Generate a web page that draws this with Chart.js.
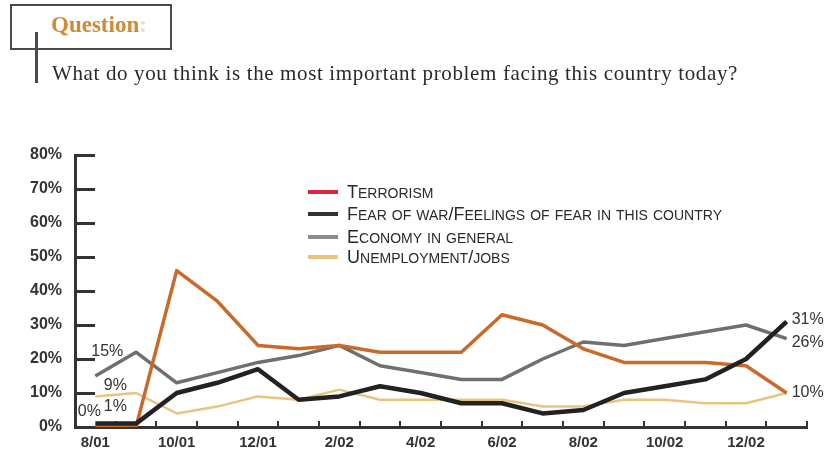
<!DOCTYPE html>
<html>
<head>
<meta charset="utf-8">
<script src="https://cdn.jsdelivr.net/npm/chart.js@4.4.1/dist/chart.umd.min.js"></script>
<style>
  html, body { margin: 0; padding: 0; background: #fff; }
  #wrap { position: relative; width: 827px; height: 458px; overflow: hidden; }
  #c { position: absolute; left: 0; top: 0; }
  #qbox { position: absolute; left: 10px; top: 4px; width: 158px; height: 42px; border: 2.5px solid #4a4a4a; }
  #qline { position: absolute; left: 35px; top: 32px; width: 2.5px; height: 51px; background: #4a4a4a; }
  #qlabel { position: absolute; left: 51px; top: 12px; font-family: "Liberation Serif", serif; font-size: 23px; font-weight: bold; color: #d18a35; white-space: nowrap; line-height: 26px; }
  #qlabel span { color: #eadccb; }
  #qtext { position: absolute; left: 52px; top: 61px; font-family: "Liberation Serif", serif; font-size: 21px; color: #2a2a2a; white-space: nowrap; line-height: 24px; }
  .leg { position: absolute; left: 308px; height: 20px; white-space: nowrap; }
  .leg i { position: absolute; left: 0; top: 8px; width: 30px; height: 4px; }
  .leg b { position: absolute; left: 39px; top: 0; font-family: "Liberation Sans", sans-serif; font-weight: normal; font-size: 18px; line-height: 20px; color: #2a2a2a; }
  .leg b s { text-decoration: none; text-transform: uppercase; font-size: 14px; }
</style>
</head>
<body>
<div id="wrap">
  <canvas id="c" width="827" height="458"></canvas>
  <div id="qbox"></div>
  <div id="qline"></div>
  <div id="qlabel">Question<span>:</span></div>
  <div id="qtext">What do you think is the most important problem facing this country today?</div>
  <div id="legend"></div>
</div>
<script>
// ---- data ----
const months = ["8/01","9/01","10/01","11/01","12/01","1/02","2/02","3/02","4/02","5/02","6/02","7/02","8/02","9/02","10/02","11/02","12/02","1/03"];
const terrorism    = [0, 0, 46, 37, 24, 23, 24, 22, 22, 22, 33, 30, 23, 19, 19, 19, 18, 10];
const fearOfWar    = [1, 1, 10, 13, 17,  8,  9, 12, 10,  7,  7,  4,  5, 10, 12, 14, 20, 31];
const economy      = [15, 22, 13, 16, 19, 21, 24, 18, 16, 14, 14, 20, 25, 24, 26, 28, 30, 26];
const unemployment = [9, 10, 4, 6, 9, 8, 11, 8, 8, 8, 8, 6, 6, 8, 8, 7, 7, 10];
const yTicks = [0, 10, 20, 30, 40, 50, 60, 70, 80];
const seriesNames = ["Terrorism", "Fear of war/Feelings of fear in this country", "Economy in general", "Unemployment/jobs"];

const lineColors = ["#c96a2b", "#222222", "#6f6f6f", "#e9c47f"];
const legendColors = ["#d9283a", "#333333", "#8c8c8c", "#e9c47f"];

// legend (HTML overlay, hand-made small caps: lowercase runs shown smaller in capitals)
const legRows = [182, 204, 227, 247];
const legEl = document.getElementById('legend');
function smallCaps(text) {
  return text.replace(/[a-z]+/g, m => '<s>' + m + '</s>');
}
seriesNames.forEach((n, i) => {
  const d = document.createElement('div');
  d.className = 'leg';
  d.style.top = legRows[i] + 'px';
  d.innerHTML = '<i style="background:' + legendColors[i] + '"></i><b>' + smallCaps(n) + '</b>';
  legEl.appendChild(d);
});

// axes decorations and value labels drawn from data
const labelPlugin = {
  id: 'labels',
  beforeDatasetsDraw(chart) {
    const ctx = chart.ctx;
    const xs = chart.scales.x, ys = chart.scales.y;
    ctx.save();
    ctx.strokeStyle = '#333';
    ctx.lineWidth = 3;
    yTicks.forEach(v => {
      if (v === 0) return;
      const y = Math.round(ys.getPixelForValue(v)) + 0.5;
      ctx.beginPath(); ctx.moveTo(xs.left, y); ctx.lineTo(xs.left + 20, y); ctx.stroke();
    });
    ctx.lineWidth = 2;
    const n = months.length;
    for (let i = 1; i <= n; i++) {
      const x = Math.round(xs.left + i * (xs.right - xs.left) / n);
      ctx.beginPath(); ctx.moveTo(x, ys.bottom); ctx.lineTo(x, ys.bottom - 6); ctx.stroke();
    }
    ctx.restore();
  },
  afterDatasetsDraw(chart) {
    const ctx = chart.ctx;
    ctx.save();
    ctx.font = '16px "Liberation Sans", Arial, sans-serif';
    ctx.fillStyle = '#333';
    ctx.textBaseline = 'middle';
    const startOff = [[-6, -15], [20, -17], [12, -24], [20, -11]];
    const endOff = [[5, 0], [5, -2], [5, 4], null];
    chart.data.datasets.forEach((ds, i) => {
      const meta = chart.getDatasetMeta(i);
      const p0 = meta.data[0], pN = meta.data[meta.data.length - 1];
      const so = startOff[i];
      ctx.textAlign = 'center';
      ctx.fillText(ds.data[0] + '%', p0.x + so[0], p0.y + so[1]);
      const eo = endOff[i];
      if (eo) {
        ctx.textAlign = 'left';
        ctx.fillText(ds.data[ds.data.length - 1] + '%', pN.x + eo[0], pN.y + eo[1]);
      }
    });
    ctx.restore();
  }
};

const tickFont = { family: '"Liberation Sans", Arial, sans-serif', size: 15, weight: 'bold' };

new Chart(document.getElementById('c'), {
  type: 'line',
  data: {
    labels: months,
    datasets: [
      { label: seriesNames[0], data: terrorism, borderColor: lineColors[0], borderWidth: 3.5, order: 1 },
      { label: seriesNames[1], data: fearOfWar, borderColor: lineColors[1], borderWidth: 4.5, order: 0 },
      { label: seriesNames[2], data: economy, borderColor: lineColors[2], borderWidth: 3.5, order: 2 },
      { label: seriesNames[3], data: unemployment, borderColor: lineColors[3], borderWidth: 2.5, order: 3 }
    ]
  },
  options: {
    responsive: false,
    animation: false,
    events: [],
    elements: { point: { radius: 0 }, line: { tension: 0, borderJoinStyle: 'round', borderCapStyle: 'butt' } },
    layout: { padding: { left: 0, right: 20, top: 155, bottom: 0 } },
    plugins: { legend: { display: false }, tooltip: { enabled: false } },
    scales: {
      x: {
        type: 'category',
        offset: true,
        grid: { display: false, drawTicks: false },
        border: { display: true, color: '#333', width: 3 },
        ticks: {
          autoSkip: false, maxRotation: 0, padding: 7,
          color: '#333', font: tickFont,
          callback: (v, i) => (i % 2 === 0 ? months[i] : '')
        },
        afterFit: (s) => { s.height = 31; }
      },
      y: {
        min: 0, max: 80,
        afterBuildTicks: (s) => { s.ticks = yTicks.map(v => ({ value: v })); },
        grid: { display: false, drawTicks: false },
        border: { display: true, color: '#333', width: 3 },
        ticks: {
          padding: 13, color: '#333',
          font: { family: '"Liberation Sans", Arial, sans-serif', size: 16, weight: 'bold' },
          callback: (v) => v + '%'
        },
        afterFit: (s) => { s.width = 75; }
      }
    }
  },
  plugins: [labelPlugin]
});

// fit text widths to the reference spans
function fitSpacing(el, target) {
  const w = el.getBoundingClientRect().width;
  const chars = el.textContent.length;
  el.style.letterSpacing = ((target - w) / chars) + 'px';
}
fitSpacing(document.getElementById('qtext'), 686);
const legB = document.querySelectorAll('.leg b');
fitSpacing(legB[1], 375);
legB.forEach(b => { b.style.letterSpacing = legB[1].style.letterSpacing; });
</script>
</body>
</html>
